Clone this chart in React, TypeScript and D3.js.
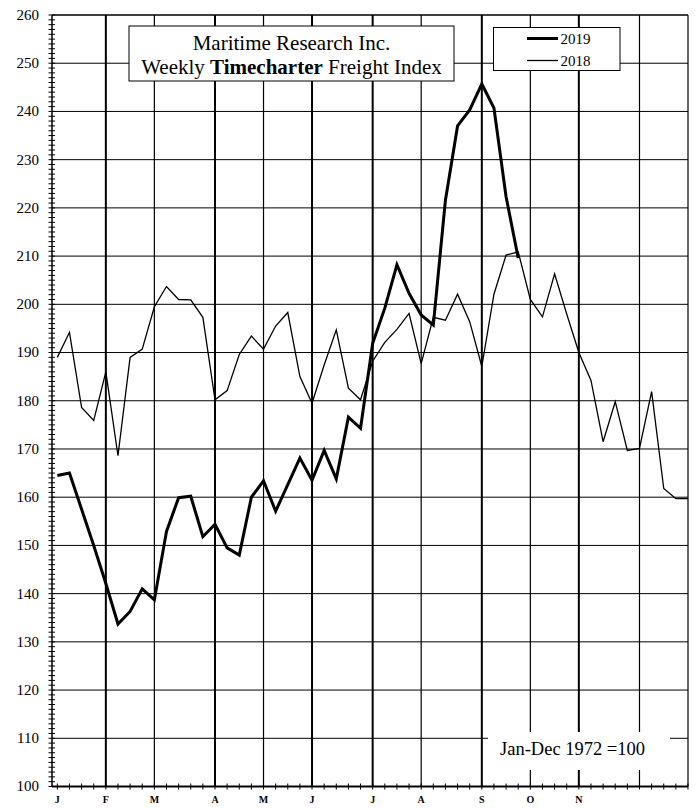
import React from 'react';
import * as d3 from 'd3';

// weekly index values (week 0 = first week of Jan)
const series2019 = [
  164.5, 165.0, 157.5, 150.0, 142.1, 133.7, 136.3, 141.0, 138.7, 152.9,
  159.9, 160.2, 151.8, 154.4, 149.5, 148.0, 160.0, 163.4, 157.1, 162.6,
  168.1, 163.5, 169.7, 163.8, 176.6, 174.3, 191.9, 199.2, 208.2, 202.3,
  197.8, 195.7, 221.6, 237.0, 240.3, 245.7, 240.7, 222.3, 209.6,
];

const series2018 = [
  189.0, 194.2, 178.6, 175.9, 186.0, 168.6, 189.0, 190.7, 199.5, 203.7,
  201.0, 200.9, 197.3, 180.2, 182.1, 189.6, 193.4, 190.7, 195.5, 198.3,
  185.0, 179.5, 187.4, 194.7, 182.6, 180.2, 188.2, 192.1, 194.8, 198.1,
  187.7, 197.3, 196.7, 202.1, 196.4, 187.1, 202.1, 210.2, 210.9, 201.0,
  197.4, 206.3, 198.0, 190.0, 184.2, 171.5, 179.8, 169.7, 170.1, 181.9,
  161.8, 159.7, 159.7,
];

// month boundaries in weeks, label ('' = no label), heavy line or not
const monthWeeks = [0, 4, 8, 13, 17, 21, 26, 30, 35, 39, 43, 48];
const monthLabels = ['J', 'F', 'M', 'A', 'M', 'J', 'J', 'A', 'S', 'O', 'N', ''];
const monthHeavy = [false, true, false, true, false, true, true, false, true, false, true, false];

const yTicks = d3.range(100, 261, 10);
const legendLabels = ['2019', '2018'];

const W = 699;
const H = 808;
const left = 52;
const right = 688;
const top = 15;
const bottom = 786.5;

const App: React.FC = () => {
  const x = d3.scaleLinear().domain([-0.44, 52]).range([left, right]);
  const y = d3.scaleLinear().domain([100, 260]).range([bottom, top]);

  const line = d3
    .line<number>()
    .x((_, i) => x(i))
    .y((d) => y(d));

  const font = '"Liberation Serif", "Times New Roman", serif';

  return (
    <svg
      width={W}
      height={H}
      style={{ position: 'absolute', left: 0, top: 0, background: '#fff' }}
      fontFamily={font}
    >
      {/* horizontal grid */}
      {yTicks.map((t) => (
        <line key={'h' + t} x1={left} x2={right} y1={y(t)} y2={y(t)} stroke="#000" strokeWidth={1} />
      ))}

      {/* month grid */}
      {monthWeeks.slice(1).map((w, i) => (
        <line
          key={'v' + w}
          x1={x(w)}
          x2={x(w)}
          y1={top}
          y2={bottom}
          stroke="#000"
          strokeWidth={monthHeavy[i + 1] ? 2 : 1.2}
        />
      ))}

      {/* frame */}
      <line x1={right} x2={right} y1={top} y2={bottom} stroke="#000" strokeWidth={1.2} />
      <line x1={left} x2={right} y1={top} y2={top} stroke="#000" strokeWidth={1.2} />
      <line x1={left} x2={left} y1={top} y2={bottom} stroke="#000" strokeWidth={1.5} />
      <line x1={left} x2={right} y1={bottom} y2={bottom} stroke="#000" strokeWidth={2} />

      {/* y minor ticks */}
      {d3.range(100, 261, 1).map((t) => (
        <line key={'yt' + t} x1={48.5} x2={55} y1={y(t)} y2={y(t)} stroke="#000" strokeWidth={1} />
      ))}
      {yTicks.map((t) => (
        <text key={'yl' + t} x={39} y={y(t)} dy="0.33em" textAnchor="end" fontSize={15}>
          {t}
        </text>
      ))}

      {/* x week ticks */}
      {d3.range(0, 53).map((w) => (
        <line key={'xt' + w} x1={x(w)} x2={x(w)} y1={bottom - 3} y2={bottom + 3} stroke="#000" strokeWidth={1} />
      ))}
      {monthWeeks.map((w, i) => (
        <text key={'xl' + i} x={x(w)} y={803} textAnchor="middle" fontSize={10} fontWeight="bold">
          {monthLabels[i]}
        </text>
      ))}

      {/* series */}
      <path d={line(series2018) || ''} fill="none" stroke="#000" strokeWidth={1.3} strokeLinejoin="miter" />
      <path d={line(series2019) || ''} fill="none" stroke="#000" strokeWidth={3} strokeLinejoin="miter" />

      {/* title box */}
      <rect x={129} y={26} width={325} height={55} fill="#fff" stroke="#000" strokeWidth={1} />
      <text x={291.5} y={49.5} textAnchor="middle" fontSize={21}>
        Maritime Research Inc.
      </text>
      <text x={291.5} y={73.5} textAnchor="middle" fontSize={21}>
        Weekly <tspan fontWeight="bold">Timecharter</tspan> Freight Index
      </text>

      {/* legend */}
      <rect x={493.5} y={27.5} width={126.5} height={43} fill="#fff" stroke="#000" strokeWidth={1} />
      <line x1={527} x2={558} y1={38.5} y2={38.5} stroke="#000" strokeWidth={3} />
      <line x1={527} x2={558} y1={60.5} y2={60.5} stroke="#000" strokeWidth={1.3} />
      <text x={560.5} y={43.5} fontSize={15}>{legendLabels[0]}</text>
      <text x={560.5} y={65.5} fontSize={15}>{legendLabels[1]}</text>

      {/* base note */}
      <rect x={488} y={732} width={182} height={38} fill="#fff" />
      <text x={500} y={755} fontSize={18.5}>
        Jan-Dec 1972 =100
      </text>
    </svg>
  );
};

export default App;
